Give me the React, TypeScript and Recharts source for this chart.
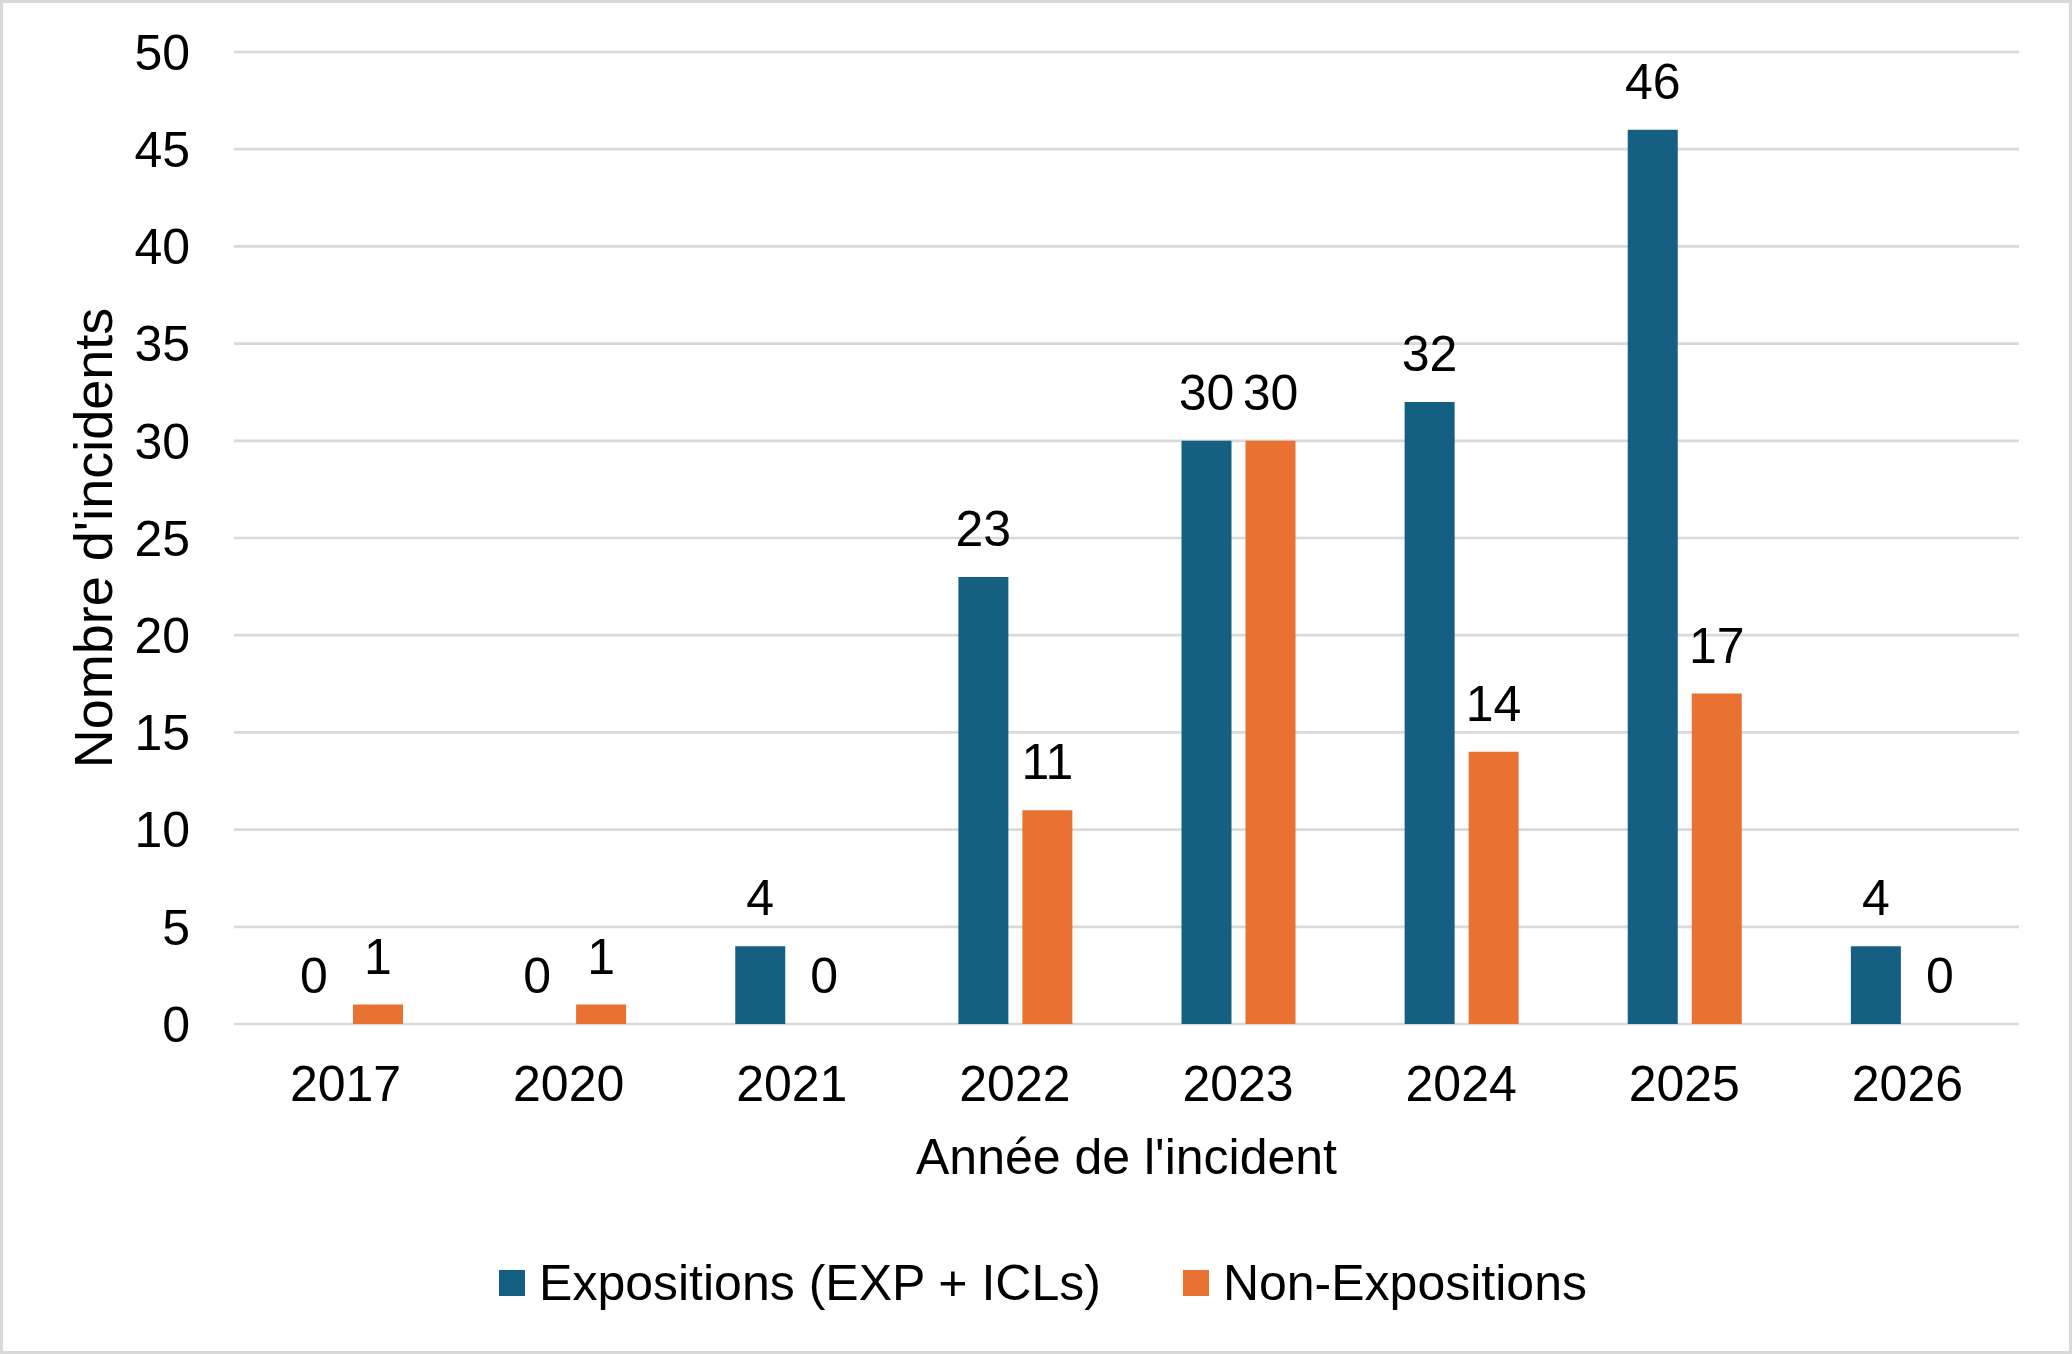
import React from 'react';
import { BarChart, Bar, XAxis, YAxis, CartesianGrid, Legend, LabelList, Label } from 'recharts';

// incidents per year, split by type
const years = ['2017', '2020', '2021', '2022', '2023', '2024', '2025', '2026'];
const expositions = [0, 0, 4, 23, 30, 32, 46, 4];
const nonExpositions = [1, 1, 0, 11, 30, 14, 17, 0];
const yTicks = [0, 5, 10, 15, 20, 25, 30, 35, 40, 45, 50];

const seriesNames = ['Expositions (EXP + ICLs)', 'Non-Expositions'];
const colors = ['#156082', '#E97132'];

const data = years.map((year, i) => ({
  year,
  exp: expositions[i],
  nonExp: nonExpositions[i],
}));

const FONT = '"Liberation Sans", Arial, sans-serif';
const FS = 50;

const renderLegend = () => (
  <div
    style={{
      display: 'flex',
      justifyContent: 'center',
      alignItems: 'center',
      height: 118,
      paddingLeft: 14,
      fontSize: FS,
      color: '#000',
      fontFamily: FONT,
    }}
  >
    {seriesNames.map((name, i) => (
      <span key={name} style={{ display: 'flex', alignItems: 'center', marginRight: i === 0 ? 82 : 0 }}>
        <span style={{ display: 'inline-block', width: 26, height: 26, background: colors[i], marginRight: 14 }} />
        {name}
      </span>
    ))}
  </div>
);

const App = () => {
  return (
    <div
      style={{
        position: 'absolute',
        top: 0,
        left: 0,
        width: 2072,
        height: 1354,
        boxSizing: 'border-box',
        border: '3px solid #d9d9d9',
        background: '#fff',
      }}
    >
      <div style={{ position: 'absolute', top: -3, left: -3 }}>
        <BarChart
          width={2072}
          height={1354}
          data={data}
          margin={{ top: 52, right: 53, left: 0, bottom: 12 }}
          barSize={50}
          barGap={14}
          style={{ fontFamily: FONT }}
        >
          <CartesianGrid vertical={false} stroke="#d9d9d9" strokeWidth={2.7} />
          <XAxis
            dataKey="year"
            axisLine={false}
            tickLine={false}
            tickSize={0}
            tickMargin={41}
            height={200}
            interval={0}
            tick={{ fill: '#000', fontSize: FS }}
          >
            <Label value="Année de l'incident" position="insideTop" offset={114} fill="#000" fontSize={FS} />
          </XAxis>
          <YAxis
            domain={[0, 50]}
            ticks={yTicks}
            axisLine={false}
            tickLine={false}
            tickSize={0}
            tickMargin={44}
            width={234}
            interval={0}
            tick={{ fill: '#000', fontSize: FS }}
          >
            <Label value="Nombre d'incidents" angle={-90} position="center" dx={-24} fill="#000" fontSize={54} />
          </YAxis>
          <Legend
            verticalAlign="bottom"
            content={renderLegend}
            wrapperStyle={{ left: 0, width: 2072, height: 118, bottom: 12 }}
          />
          {/* tiny minPointSize keeps the zero bars in place so their "0" labels still show */}
          <Bar dataKey="exp" name={seriesNames[0]} fill={colors[0]} minPointSize={0.01} isAnimationActive={false}>
            <LabelList dataKey="exp" position="top" offset={31} fill="#000" fontSize={FS} />
          </Bar>
          <Bar dataKey="nonExp" name={seriesNames[1]} fill={colors[1]} minPointSize={0.01} isAnimationActive={false}>
            <LabelList dataKey="nonExp" position="top" offset={31} fill="#000" fontSize={FS} />
          </Bar>
        </BarChart>
      </div>
    </div>
  );
};

export default App;
